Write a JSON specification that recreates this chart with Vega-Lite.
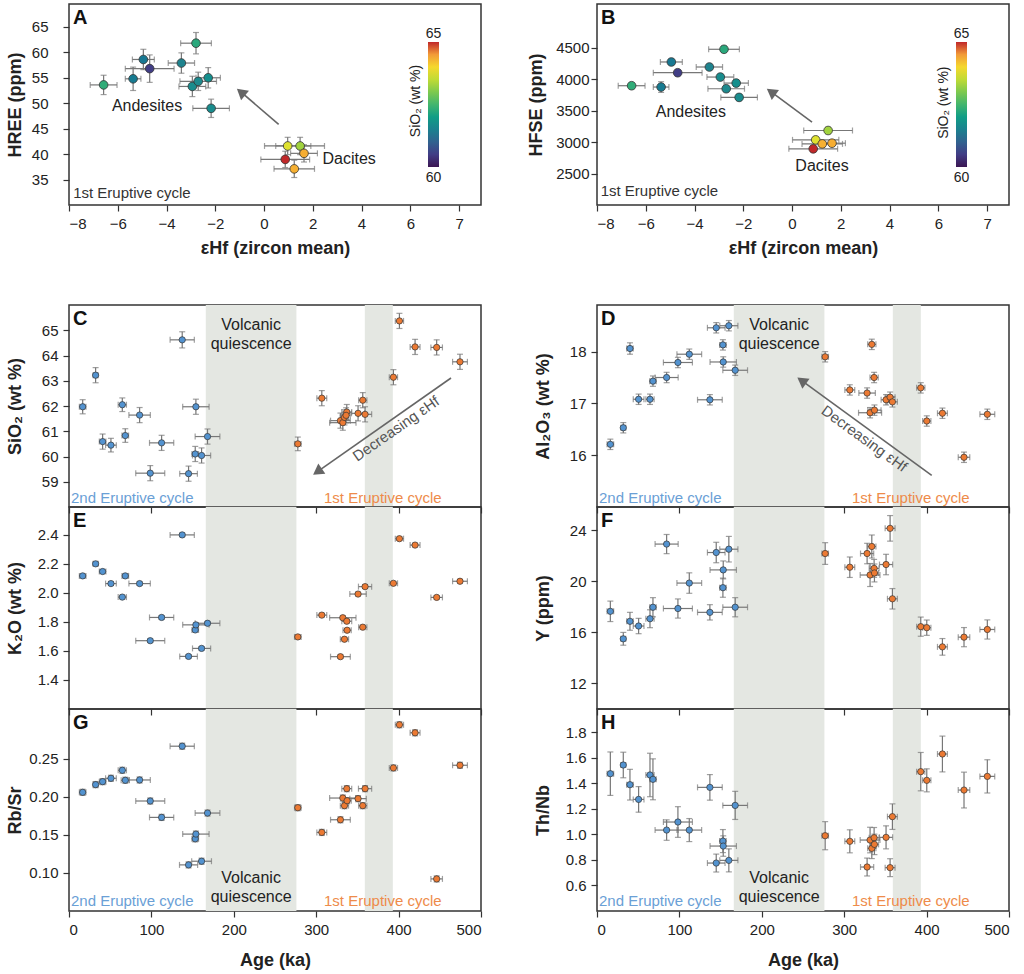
{
"$schema":"https://vega.github.io/schema/vega-lite/v6.json",
"padding":{"left":5,"top":3,"right":5,"bottom":5},
"config":{"font":"Liberation Sans","view":{"stroke":"#333","strokeWidth":1.5},
"axis":{"grid":false,"domain":false,"tickSize":6,"tickColor":"#333","tickWidth":1.2,"labelFontSize":15,"labelColor":"#222","titleFontSize":18,"titleFontWeight":"bold","titleColor":"#222","labelPadding":5,"labelOverlap":false},
"axisY":{"minExtent":38,"maxExtent":38,"titlePadding":7}},
"datasets":{
"bands":[{"s":166,"e":276},{"s":359,"e":393}],
"AB":[
{"e":-6.58,"ee":0.55,"h":53.6,"he":1.9,"f":3899,"fe":50,"s":62.3},
{"e":-5.37,"ee":0.32,"h":54.8,"he":2.3,"f":3878,"fe":85,"s":61.4},
{"e":-4.95,"ee":0.45,"h":58.6,"he":2.0,"f":4277,"fe":50,"s":61.35},
{"e":-4.69,"ee":1.0,"h":56.8,"he":2.7,"f":4106,"fe":50,"s":60.5},
{"e":-3.39,"ee":0.54,"h":57.9,"he":2.0,"f":4197,"fe":50,"s":61.55},
{"e":-2.79,"ee":0.63,"h":61.8,"he":2.1,"f":4479,"fe":50,"s":62.2},
{"e":-2.94,"ee":0.55,"h":53.3,"he":2.0,"f":4037,"fe":50,"s":61.7},
{"e":-2.70,"ee":0.75,"h":54.3,"he":1.8,"f":3851,"fe":50,"s":61.65},
{"e":-2.29,"ee":0.5,"h":55.0,"he":2.0,"f":3941,"fe":50,"s":61.75},
{"e":-2.17,"ee":0.75,"h":49.0,"he":1.8,"f":3713,"fe":50,"s":61.7},
{"e":0.97,"ee":0.95,"h":41.6,"he":1.7,"f":3037,"fe":50,"s":63.75},
{"e":1.48,"ee":1.0,"h":41.6,"he":1.7,"f":3186,"fe":50,"s":63.25},
{"e":1.64,"ee":0.55,"h":40.15,"he":1.7,"f":2984,"fe":50,"s":64.34},
{"e":0.87,"ee":1.0,"h":38.96,"he":1.6,"f":2894,"fe":50,"s":65.37},
{"e":1.24,"ee":0.83,"h":37.1,"he":1.7,"f":2973,"fe":50,"s":64.32}],
"C":[
{"c":"2nd","a":16.6,"ae":4,"v":61.97,"ve":0.28},
{"c":"2nd","a":32.3,"ae":3,"v":63.22,"ve":0.3},
{"c":"2nd","a":40.8,"ae":4,"v":60.59,"ve":0.3},
{"c":"2nd","a":50.9,"ae":6.5,"v":60.45,"ve":0.27},
{"c":"2nd","a":64.7,"ae":5,"v":62.05,"ve":0.27},
{"c":"2nd","a":68.3,"ae":4,"v":60.83,"ve":0.27},
{"c":"2nd","a":85.7,"ae":13,"v":61.64,"ve":0.3},
{"c":"2nd","a":98.6,"ae":17.6,"v":59.34,"ve":0.3},
{"c":"2nd","a":112.4,"ae":14.7,"v":60.54,"ve":0.3},
{"c":"2nd","a":137.4,"ae":14.7,"v":64.62,"ve":0.32},
{"c":"2nd","a":145.1,"ae":10.7,"v":59.32,"ve":0.3},
{"c":"2nd","a":153.2,"ae":4,"v":60.1,"ve":0.3},
{"c":"2nd","a":154,"ae":16,"v":61.97,"ve":0.3},
{"c":"2nd","a":160.9,"ae":11,"v":60.04,"ve":0.3},
{"c":"2nd","a":168.1,"ae":15,"v":60.79,"ve":0.3},
{"c":"1st","a":277.7,"ae":4,"v":60.5,"ve":0.27},
{"c":"1st","a":306.8,"ae":6,"v":62.31,"ve":0.3},
{"c":"1st","a":329.4,"ae":12,"v":61.42,"ve":0.3},
{"c":"1st","a":332.3,"ae":16,"v":61.34,"ve":0.3},
{"c":"1st","a":334.3,"ae":5,"v":61.55,"ve":0.3},
{"c":"1st","a":337.1,"ae":6,"v":61.76,"ve":0.3},
{"c":"1st","a":336.3,"ae":5,"v":61.63,"ve":0.3},
{"c":"1st","a":350.8,"ae":8,"v":61.71,"ve":0.3},
{"c":"1st","a":356.5,"ae":5,"v":62.23,"ve":0.3},
{"c":"1st","a":359.3,"ae":8,"v":61.67,"ve":0.3},
{"c":"1st","a":393.7,"ae":5,"v":63.14,"ve":0.3},
{"c":"1st","a":401,"ae":5,"v":65.37,"ve":0.3},
{"c":"1st","a":420,"ae":6,"v":64.34,"ve":0.3},
{"c":"1st","a":446.2,"ae":7,"v":64.32,"ve":0.3},
{"c":"1st","a":474.5,"ae":9,"v":63.75,"ve":0.3}],
"D":[
{"c":"2nd","a":16.2,"ae":4,"v":16.21,"ve":0.1},
{"c":"2nd","a":31.9,"ae":3,"v":16.53,"ve":0.1},
{"c":"2nd","a":40,"ae":4,"v":18.06,"ve":0.11},
{"c":"2nd","a":50.5,"ae":6.5,"v":17.08,"ve":0.1},
{"c":"2nd","a":64.3,"ae":5,"v":17.08,"ve":0.1},
{"c":"2nd","a":67.9,"ae":4,"v":17.43,"ve":0.1},
{"c":"2nd","a":84.5,"ae":14,"v":17.5,"ve":0.1},
{"c":"2nd","a":98.2,"ae":17.6,"v":17.79,"ve":0.1},
{"c":"2nd","a":112,"ae":15,"v":17.95,"ve":0.1},
{"c":"2nd","a":137,"ae":15,"v":17.07,"ve":0.1},
{"c":"2nd","a":144.7,"ae":10.7,"v":18.46,"ve":0.1},
{"c":"2nd","a":152.8,"ae":4,"v":18.13,"ve":0.1},
{"c":"2nd","a":153.2,"ae":16,"v":17.8,"ve":0.1},
{"c":"2nd","a":160,"ae":11,"v":18.5,"ve":0.1},
{"c":"2nd","a":167.7,"ae":15,"v":17.64,"ve":0.1},
{"c":"1st","a":276.9,"ae":4,"v":17.9,"ve":0.1},
{"c":"1st","a":306.8,"ae":6,"v":17.26,"ve":0.1},
{"c":"1st","a":327.8,"ae":10,"v":17.2,"ve":0.1},
{"c":"1st","a":331.4,"ae":14,"v":16.82,"ve":0.1},
{"c":"1st","a":333.5,"ae":5,"v":18.14,"ve":0.1},
{"c":"1st","a":336.3,"ae":5,"v":17.5,"ve":0.1},
{"c":"1st","a":336.7,"ae":8,"v":16.87,"ve":0.1},
{"c":"1st","a":350.8,"ae":6,"v":17.07,"ve":0.1},
{"c":"1st","a":355.7,"ae":6,"v":17.12,"ve":0.1},
{"c":"1st","a":358.5,"ae":6,"v":17.03,"ve":0.1},
{"c":"1st","a":392.9,"ae":5,"v":17.3,"ve":0.1},
{"c":"1st","a":400.2,"ae":5,"v":16.66,"ve":0.1},
{"c":"1st","a":419.2,"ae":6,"v":16.81,"ve":0.1},
{"c":"1st","a":445.4,"ae":7,"v":15.96,"ve":0.1},
{"c":"1st","a":473.7,"ae":9,"v":16.79,"ve":0.1}],
"E":[
{"c":"2nd","a":16.6,"ae":4,"v":2.116,"ve":0.012},
{"c":"2nd","a":32.3,"ae":3,"v":2.199,"ve":0.012},
{"c":"2nd","a":40.8,"ae":4,"v":2.146,"ve":0.012},
{"c":"2nd","a":50.9,"ae":6.5,"v":2.063,"ve":0.012},
{"c":"2nd","a":64.7,"ae":5,"v":1.97,"ve":0.012},
{"c":"2nd","a":68.3,"ae":4,"v":2.116,"ve":0.012},
{"c":"2nd","a":85.7,"ae":13,"v":2.063,"ve":0.012},
{"c":"2nd","a":98.6,"ae":17.6,"v":1.67,"ve":0.012},
{"c":"2nd","a":112.4,"ae":14.7,"v":1.83,"ve":0.012},
{"c":"2nd","a":137.4,"ae":14.7,"v":2.398,"ve":0.012},
{"c":"2nd","a":145.1,"ae":10.7,"v":1.562,"ve":0.012},
{"c":"2nd","a":153.2,"ae":4,"v":1.744,"ve":0.012},
{"c":"2nd","a":154,"ae":16,"v":1.779,"ve":0.012},
{"c":"2nd","a":160.9,"ae":11,"v":1.617,"ve":0.012},
{"c":"2nd","a":168.1,"ae":15,"v":1.79,"ve":0.012},
{"c":"1st","a":277.7,"ae":4,"v":1.696,"ve":0.012},
{"c":"1st","a":306.8,"ae":6,"v":1.846,"ve":0.012},
{"c":"1st","a":329.4,"ae":12,"v":1.56,"ve":0.012},
{"c":"1st","a":332.3,"ae":16,"v":1.828,"ve":0.012},
{"c":"1st","a":334.3,"ae":5,"v":1.68,"ve":0.012},
{"c":"1st","a":337.1,"ae":6,"v":1.804,"ve":0.012},
{"c":"1st","a":337.5,"ae":5,"v":1.742,"ve":0.012},
{"c":"1st","a":350.8,"ae":10,"v":1.991,"ve":0.012},
{"c":"1st","a":356.5,"ae":5,"v":1.763,"ve":0.012},
{"c":"1st","a":359.3,"ae":8,"v":2.042,"ve":0.012},
{"c":"1st","a":393.7,"ae":5,"v":2.065,"ve":0.012},
{"c":"1st","a":401,"ae":5,"v":2.372,"ve":0.012},
{"c":"1st","a":420,"ae":6,"v":2.328,"ve":0.012},
{"c":"1st","a":446.2,"ae":7,"v":1.968,"ve":0.012},
{"c":"1st","a":474.5,"ae":9,"v":2.079,"ve":0.012}],
"F":[
{"c":"2nd","a":16.2,"ae":4,"v":17.64,"ve":0.8},
{"c":"2nd","a":31.9,"ae":3,"v":15.49,"ve":0.5},
{"c":"2nd","a":40,"ae":4,"v":16.86,"ve":0.7},
{"c":"2nd","a":50.5,"ae":6.5,"v":16.49,"ve":0.6},
{"c":"2nd","a":64.3,"ae":5,"v":17.06,"ve":0.7},
{"c":"2nd","a":67.9,"ae":4,"v":17.96,"ve":0.75},
{"c":"2nd","a":84.5,"ae":14,"v":22.9,"ve":0.75},
{"c":"2nd","a":98.2,"ae":17.6,"v":17.86,"ve":0.75},
{"c":"2nd","a":112,"ae":15,"v":19.85,"ve":0.8},
{"c":"2nd","a":137,"ae":15,"v":17.56,"ve":0.6},
{"c":"2nd","a":144.7,"ae":10.7,"v":22.24,"ve":0.8},
{"c":"2nd","a":152.8,"ae":4,"v":19.49,"ve":0.75},
{"c":"2nd","a":153.2,"ae":16,"v":20.88,"ve":0.7},
{"c":"2nd","a":160,"ae":11,"v":22.5,"ve":1.0},
{"c":"2nd","a":167.7,"ae":15,"v":17.96,"ve":0.75},
{"c":"1st","a":276.9,"ae":4,"v":22.16,"ve":0.85},
{"c":"1st","a":306.8,"ae":6,"v":21.09,"ve":0.8},
{"c":"1st","a":327.8,"ae":8,"v":22.16,"ve":0.8},
{"c":"1st","a":331.4,"ae":12,"v":20.48,"ve":0.9},
{"c":"1st","a":333.5,"ae":5,"v":22.71,"ve":0.9},
{"c":"1st","a":336.3,"ae":6,"v":21.0,"ve":0.7},
{"c":"1st","a":336.7,"ae":5,"v":20.64,"ve":0.7},
{"c":"1st","a":350.8,"ae":8,"v":21.3,"ve":0.8},
{"c":"1st","a":355.7,"ae":6,"v":24.13,"ve":1.0},
{"c":"1st","a":358.5,"ae":6,"v":18.62,"ve":0.8},
{"c":"1st","a":392.9,"ae":5,"v":16.44,"ve":0.75},
{"c":"1st","a":400.2,"ae":5,"v":16.36,"ve":0.6},
{"c":"1st","a":419.2,"ae":6,"v":14.86,"ve":0.65},
{"c":"1st","a":445.4,"ae":7,"v":15.62,"ve":0.75},
{"c":"1st","a":473.7,"ae":9,"v":16.22,"ve":0.75}],
"G":[
{"c":"2nd","a":16.6,"ae":4,"v":0.2057,"ve":0.004},
{"c":"2nd","a":32.3,"ae":3,"v":0.2158,"ve":0.004},
{"c":"2nd","a":40.8,"ae":4,"v":0.2197,"ve":0.004},
{"c":"2nd","a":50.9,"ae":6.5,"v":0.2241,"ve":0.004},
{"c":"2nd","a":64.7,"ae":5,"v":0.2346,"ve":0.004},
{"c":"2nd","a":68.3,"ae":5,"v":0.2215,"ve":0.004},
{"c":"2nd","a":85.7,"ae":13,"v":0.2219,"ve":0.004},
{"c":"2nd","a":98.6,"ae":17.6,"v":0.1943,"ve":0.004},
{"c":"2nd","a":112.4,"ae":14.7,"v":0.1728,"ve":0.004},
{"c":"2nd","a":137.4,"ae":14.7,"v":0.2662,"ve":0.004},
{"c":"2nd","a":145.1,"ae":11,"v":0.1105,"ve":0.004},
{"c":"2nd","a":153.2,"ae":4,"v":0.1447,"ve":0.004},
{"c":"2nd","a":154,"ae":16,"v":0.1509,"ve":0.004},
{"c":"2nd","a":160.9,"ae":12,"v":0.1153,"ve":0.004},
{"c":"2nd","a":168.1,"ae":15,"v":0.1785,"ve":0.004},
{"c":"1st","a":277.7,"ae":4,"v":0.1855,"ve":0.004},
{"c":"1st","a":306.8,"ae":6,"v":0.1531,"ve":0.004},
{"c":"1st","a":329.4,"ae":12,"v":0.1697,"ve":0.004},
{"c":"1st","a":332.3,"ae":16,"v":0.1982,"ve":0.004},
{"c":"1st","a":334.3,"ae":5,"v":0.1882,"ve":0.004},
{"c":"1st","a":337.1,"ae":6,"v":0.2105,"ve":0.004},
{"c":"1st","a":337.5,"ae":5,"v":0.1947,"ve":0.004},
{"c":"1st","a":350.8,"ae":10,"v":0.1974,"ve":0.004},
{"c":"1st","a":356.5,"ae":5,"v":0.1882,"ve":0.004},
{"c":"1st","a":359.3,"ae":8,"v":0.2105,"ve":0.004},
{"c":"1st","a":393.7,"ae":5,"v":0.2377,"ve":0.004},
{"c":"1st","a":401,"ae":5,"v":0.2943,"ve":0.004},
{"c":"1st","a":420,"ae":6,"v":0.2838,"ve":0.004},
{"c":"1st","a":446.2,"ae":7,"v":0.0921,"ve":0.004},
{"c":"1st","a":474.5,"ae":9,"v":0.2412,"ve":0.004}],
"H":[
{"c":"2nd","a":16.2,"ae":4,"v":1.474,"ve":0.17},
{"c":"2nd","a":31.9,"ae":3,"v":1.542,"ve":0.1},
{"c":"2nd","a":40,"ae":4,"v":1.388,"ve":0.12},
{"c":"2nd","a":50.5,"ae":6.5,"v":1.273,"ve":0.1},
{"c":"2nd","a":64.3,"ae":5,"v":1.464,"ve":0.17},
{"c":"2nd","a":67.9,"ae":4,"v":1.43,"ve":0.16},
{"c":"2nd","a":84.5,"ae":14,"v":1.033,"ve":0.08},
{"c":"2nd","a":98.2,"ae":17.6,"v":1.096,"ve":0.12},
{"c":"2nd","a":112,"ae":15,"v":1.033,"ve":0.09},
{"c":"2nd","a":137,"ae":15,"v":1.367,"ve":0.1},
{"c":"2nd","a":144.7,"ae":10.7,"v":0.775,"ve":0.07},
{"c":"2nd","a":152.8,"ae":4,"v":0.947,"ve":0.09},
{"c":"2nd","a":153.2,"ae":16,"v":0.908,"ve":0.08},
{"c":"2nd","a":160,"ae":11,"v":0.796,"ve":0.09},
{"c":"2nd","a":167.7,"ae":15,"v":1.226,"ve":0.11},
{"c":"1st","a":276.9,"ae":4,"v":0.989,"ve":0.11},
{"c":"1st","a":306.8,"ae":6,"v":0.945,"ve":0.09},
{"c":"1st","a":327.8,"ae":8,"v":0.744,"ve":0.07},
{"c":"1st","a":331.4,"ae":12,"v":0.955,"ve":0.1},
{"c":"1st","a":333.5,"ae":5,"v":0.89,"ve":0.08},
{"c":"1st","a":336.3,"ae":6,"v":0.973,"ve":0.08},
{"c":"1st","a":336.7,"ae":5,"v":0.921,"ve":0.08},
{"c":"1st","a":350.8,"ae":8,"v":0.976,"ve":0.09},
{"c":"1st","a":355.7,"ae":6,"v":0.739,"ve":0.07},
{"c":"1st","a":358.5,"ae":6,"v":1.138,"ve":0.1},
{"c":"1st","a":392.9,"ae":5,"v":1.49,"ve":0.15},
{"c":"1st","a":400.2,"ae":5,"v":1.422,"ve":0.09},
{"c":"1st","a":419.2,"ae":6,"v":1.628,"ve":0.14},
{"c":"1st","a":445.4,"ae":7,"v":1.346,"ve":0.14},
{"c":"1st","a":473.7,"ae":9,"v":1.453,"ve":0.13}]
},
"spacing":46,
"vconcat":[
{"hconcat":[
{"width":412,"height":201,"layer":[
{"data":{"name":"AB"},"mark":{"type":"errorbar","ticks":true,"size":6,"thickness":1.2,"color":"#777"},
"encoding":{"x":{"field":"e","type":"quantitative","title":"\u03b5Hf (zircon mean)","scale":{"domain":[-8,8.9],"nice":false,"zero":false},"axis":{"values":[-8,-6,-4,-2,0,2,4,6,8],"tickCount":20,"labelExpr":"datum.value == 8 ? '7' : datum.label","titlePadding":8}},"xError":{"field":"ee"},
"y":{"field":"h","type":"quantitative","title":"HREE (ppm)","scale":{"domain":[30,69.5],"nice":false,"zero":false},"axis":{"values":[35,40,45,50,55,60,65],"tickCount":20,"format":"d","labelPadding":15}}}},
{"data":{"name":"AB"},"mark":{"type":"errorbar","ticks":true,"size":6,"thickness":1.2,"color":"#777"},
"encoding":{"x":{"field":"e","type":"quantitative","title":"\u03b5Hf (zircon mean)"},"y":{"field":"h","type":"quantitative","title":"HREE (ppm)"},"yError":{"field":"he"}}},
{"data":{"name":"AB"},"mark":{"type":"point","filled":true,"size":75,"stroke":"#333","strokeWidth":0.8,"opacity":1},
"encoding":{"x":{"field":"e","type":"quantitative","title":"\u03b5Hf (zircon mean)"},"y":{"field":"h","type":"quantitative","title":"HREE (ppm)"},
"color":{"field":"s","type":"quantitative","scale":{"domain":[60,60.5,61,61.6,62.2,62.8,63.3,63.9,64.5,65],"range":["#3b1653","#413d85","#31628f","#23868d","#2aa87c","#62c05a","#a8d53a","#f2e530","#f29a38","#c0282a"],"clamp":true},
"legend":{"orient":"none","legendX":359,"legendY":38,"direction":"vertical","gradientLength":125,"gradientThickness":11,"title":null,"labelOpacity":0,"padding":0,"gradientStrokeWidth":0}}}},
{"data":{"values":[{"t":"A","x":-7.84,"y":68.7}]},"mark":{"type":"text","fontSize":20,"fontWeight":"bold","align":"left","baseline":"top","color":"#111"},
"encoding":{"x":{"field":"x","type":"quantitative"},"y":{"field":"y","type":"quantitative"},"text":{"field":"t"}}},
{"data":{"values":[{"t":"Andesites","x":-4.8,"y":49.4},{"t":"Dacites","x":3.49,"y":38.96}]},"mark":{"type":"text","fontSize":16,"align":"center","baseline":"middle","color":"#222"},
"encoding":{"x":{"field":"x","type":"quantitative"},"y":{"field":"y","type":"quantitative"},"text":{"field":"t"}}},
{"data":{"values":[{"t":"1st Eruptive cycle","x":-7.83,"y":32.4}]},"mark":{"type":"text","fontSize":15,"align":"left","baseline":"middle","color":"#333"},
"encoding":{"x":{"field":"x","type":"quantitative"},"y":{"field":"y","type":"quantitative"},"text":{"field":"t"}}},
{"data":{"values":[{"t":"65","x":6.95,"y":63.6},{"t":"60","x":6.95,"y":35.3}]},"mark":{"type":"text","fontSize":14,"align":"center","baseline":"middle","color":"#222"},
"encoding":{"x":{"field":"x","type":"quantitative"},"y":{"field":"y","type":"quantitative"},"text":{"field":"t"}}},
{"data":{"values":[{"t":"SiO\u2082 (wt %)","x":6.23,"y":50.44}]},"mark":{"type":"text","fontSize":14,"align":"center","baseline":"middle","angle":270,"color":"#222"},
"encoding":{"x":{"field":"x","type":"quantitative"},"y":{"field":"y","type":"quantitative"},"text":{"field":"t"}}},
{"data":{"values":[{"x":0.60,"y":45.86,"x2":-0.891,"y2":51.97}]},"mark":{"type":"rule","color":"#666","strokeWidth":1.6},
"encoding":{"x":{"field":"x","type":"quantitative"},"y":{"field":"y","type":"quantitative"},"x2":{"field":"x2"},"y2":{"field":"y2"}}},
{"data":{"values":[{"x":-0.891,"y":51.97}]},"mark":{"type":"point","shape":"triangle","filled":true,"size":150,"angle":310,"color":"#666","opacity":1},
"encoding":{"x":{"field":"x","type":"quantitative"},"y":{"field":"y","type":"quantitative"}}}
]},
{"width":412,"height":201,"layer":[
{"data":{"name":"AB"},"mark":{"type":"errorbar","ticks":true,"size":6,"thickness":1.2,"color":"#777"},
"encoding":{"x":{"field":"e","type":"quantitative","title":"\u03b5Hf (zircon mean)","scale":{"domain":[-8,8.9],"nice":false,"zero":false},"axis":{"values":[-8,-6,-4,-2,0,2,4,6,8],"tickCount":20,"labelExpr":"datum.value == 8 ? '7' : datum.label","titlePadding":8}},"xError":{"field":"ee"},
"y":{"field":"f","type":"quantitative","title":"HFSE (ppm)","scale":{"domain":[2000,5200],"nice":false,"zero":false},"axis":{"values":[2500,3000,3500,4000,4500],"tickCount":20,"format":"d","labelPadding":2,"minExtent":45,"maxExtent":45}}}},
{"data":{"name":"AB"},"mark":{"type":"errorbar","ticks":true,"size":6,"thickness":1.2,"color":"#777"},
"encoding":{"x":{"field":"e","type":"quantitative","title":"\u03b5Hf (zircon mean)"},"y":{"field":"f","type":"quantitative","title":"HFSE (ppm)"},"yError":{"field":"fe"}}},
{"data":{"name":"AB"},"mark":{"type":"point","filled":true,"size":75,"stroke":"#333","strokeWidth":0.8,"opacity":1},
"encoding":{"x":{"field":"e","type":"quantitative","title":"\u03b5Hf (zircon mean)"},"y":{"field":"f","type":"quantitative","title":"HFSE (ppm)"},
"color":{"field":"s","type":"quantitative","scale":{"domain":[60,60.5,61,61.6,62.2,62.8,63.3,63.9,64.5,65],"range":["#3b1653","#413d85","#31628f","#23868d","#2aa87c","#62c05a","#a8d53a","#f2e530","#f29a38","#c0282a"],"clamp":true},
"legend":{"orient":"none","legendX":359,"legendY":38,"direction":"vertical","gradientLength":125,"gradientThickness":11,"title":null,"labelOpacity":0,"padding":0,"gradientStrokeWidth":0}}}},
{"data":{"values":[{"t":"B","x":-7.84,"y":5136}]},"mark":{"type":"text","fontSize":20,"fontWeight":"bold","align":"left","baseline":"top","color":"#111"},
"encoding":{"x":{"field":"x","type":"quantitative"},"y":{"field":"y","type":"quantitative"},"text":{"field":"t"}}},
{"data":{"values":[{"t":"Andesites","x":-4.15,"y":3473},{"t":"Dacites","x":1.23,"y":2628}]},"mark":{"type":"text","fontSize":16,"align":"center","baseline":"middle","color":"#222"},
"encoding":{"x":{"field":"x","type":"quantitative"},"y":{"field":"y","type":"quantitative"},"text":{"field":"t"}}},
{"data":{"values":[{"t":"1st Eruptive cycle","x":-7.85,"y":2218}]},"mark":{"type":"text","fontSize":15,"align":"left","baseline":"middle","color":"#333"},
"encoding":{"x":{"field":"x","type":"quantitative"},"y":{"field":"y","type":"quantitative"},"text":{"field":"t"}}},
{"data":{"values":[{"t":"65","x":6.95,"y":4722},{"t":"60","x":6.95,"y":2430}]},"mark":{"type":"text","fontSize":14,"align":"center","baseline":"middle","color":"#222"},
"encoding":{"x":{"field":"x","type":"quantitative"},"y":{"field":"y","type":"quantitative"},"text":{"field":"t"}}},
{"data":{"values":[{"t":"SiO\u2082 (wt %)","x":6.23,"y":3629}]},"mark":{"type":"text","fontSize":14,"align":"center","baseline":"middle","angle":270,"color":"#222"},
"encoding":{"x":{"field":"x","type":"quantitative"},"y":{"field":"y","type":"quantitative"},"text":{"field":"t"}}},
{"data":{"values":[{"x":0.82,"y":3321,"x2":-0.80,"y2":3785}]},"mark":{"type":"rule","color":"#666","strokeWidth":1.6},
"encoding":{"x":{"field":"x","type":"quantitative"},"y":{"field":"y","type":"quantitative"},"x2":{"field":"x2"},"y2":{"field":"y2"}}},
{"data":{"values":[{"x":-0.80,"y":3785}]},"mark":{"type":"point","shape":"triangle","filled":true,"size":150,"angle":306,"color":"#666","opacity":1},
"encoding":{"x":{"field":"x","type":"quantitative"},"y":{"field":"y","type":"quantitative"}}}
]}
],"spacing":116,"bounds":"flush","resolve":{"scale":{"color":"independent"},"legend":{"color":"independent"}}},
{"concat":[
{"width":412,"height":202,"layer":[
{"data":{"name":"bands"},"mark":{"type":"rect","color":"#e4e7e2"},"encoding":{"x":{"field":"s","type":"quantitative","title":null,"scale":{"domain":[0,500],"nice":false,"zero":false},"axis":{"values":[0,100,200,300,400,500],"tickCount":20,"labels":false}},"x2":{"field":"e"}}},
{"data":{"name":"C"},"mark":{"type":"errorbar","ticks":true,"size":6,"thickness":1.2,"color":"#777"},"encoding":{"x":{"field":"a","type":"quantitative","title":null},"xError":{"field":"ae"},"y":{"field":"v","type":"quantitative","title":"SiO\u2082 (wt %)","scale":{"domain":[58,66],"nice":false,"zero":false},"axis":{"values":[59,60,61,62,63,64,65],"tickCount":20,"format":"d"}}}},
{"data":{"name":"C"},"mark":{"type":"errorbar","ticks":true,"size":6,"thickness":1.2,"color":"#777"},"encoding":{"x":{"field":"a","type":"quantitative","title":null},"y":{"field":"v","type":"quantitative","title":"SiO\u2082 (wt %)"},"yError":{"field":"ve"}}},
{"data":{"name":"C"},"mark":{"type":"point","filled":true,"size":40,"stroke":"#333","strokeWidth":0.7,"opacity":1},"encoding":{"x":{"field":"a","type":"quantitative","title":null},"y":{"field":"v","type":"quantitative","title":"SiO\u2082 (wt %)"},"color":{"field":"c","type":"nominal","scale":{"domain":["2nd","1st"],"range":["#5393d0","#ec7a33"]},"legend":null}}},
{"data":{"values":[{"t":"C","x":5,"y":65.84}]},"mark":{"type":"text","fontSize":20,"fontWeight":"bold","align":"left","baseline":"top","color":"#111"},"encoding":{"x":{"field":"x","type":"quantitative"},"y":{"field":"y","type":"quantitative"},"text":{"field":"t"}}},
{"data":{"values":[{"t":"Volcanic\nquiescence","x":221,"y":65.52}]},"mark":{"type":"text","fontSize":16,"align":"center","baseline":"top","lineBreak":"\n","lineHeight":19,"color":"#222"},"encoding":{"x":{"field":"x","type":"quantitative"},"y":{"field":"y","type":"quantitative"},"text":{"field":"t"}}},
{"data":{"values":[{"t":"2nd Eruptive cycle","x":2.4,"y":58.36}]},"mark":{"type":"text","fontSize":15,"align":"left","baseline":"middle","color":"#6aa0d6"},"encoding":{"x":{"field":"x","type":"quantitative"},"y":{"field":"y","type":"quantitative"},"text":{"field":"t"}}},
{"data":{"values":[{"t":"1st Eruptive cycle","x":380.8,"y":58.36}]},"mark":{"type":"text","fontSize":15,"align":"center","baseline":"middle","color":"#ee8b4a"},"encoding":{"x":{"field":"x","type":"quantitative"},"y":{"field":"y","type":"quantitative"},"text":{"field":"t"}}},
{"data":{"values":[{"x":463.6,"y":63.11,"x2":303.3,"y2":59.44}]},"mark":{"type":"rule","color":"#666","strokeWidth":1.6},"encoding":{"x":{"field":"x","type":"quantitative"},"y":{"field":"y","type":"quantitative"},"x2":{"field":"x2"},"y2":{"field":"y2"}}},
{"data":{"values":[{"x":303.3,"y":59.44}]},"mark":{"type":"point","shape":"triangle","filled":true,"size":150,"angle":235,"color":"#666","opacity":1},"encoding":{"x":{"field":"x","type":"quantitative"},"y":{"field":"y","type":"quantitative"}}},
{"data":{"values":[{"t":"Decreasing \u03b5Hf","x":396.8,"y":61.1}]},"mark":{"type":"text","fontSize":15,"align":"center","baseline":"middle","angle":325,"color":"#555"},"encoding":{"x":{"field":"x","type":"quantitative"},"y":{"field":"y","type":"quantitative"},"text":{"field":"t"}}}
]},
{"width":412,"height":202,"layer":[
{"data":{"name":"bands"},"mark":{"type":"rect","color":"#e4e7e2"},"encoding":{"x":{"field":"s","type":"quantitative","title":null,"scale":{"domain":[0,500],"nice":false,"zero":false},"axis":{"values":[0,100,200,300,400,500],"tickCount":20,"labels":false}},"x2":{"field":"e"}}},
{"data":{"name":"D"},"mark":{"type":"errorbar","ticks":true,"size":6,"thickness":1.2,"color":"#777"},"encoding":{"x":{"field":"a","type":"quantitative","title":null},"xError":{"field":"ae"},"y":{"field":"v","type":"quantitative","title":"Al\u2082O\u2083 (wt %)","scale":{"domain":[15,18.9],"nice":false,"zero":false},"axis":{"values":[16,17,18],"tickCount":20,"format":"d"}}}},
{"data":{"name":"D"},"mark":{"type":"errorbar","ticks":true,"size":6,"thickness":1.2,"color":"#777"},"encoding":{"x":{"field":"a","type":"quantitative","title":null},"y":{"field":"v","type":"quantitative","title":"Al\u2082O\u2083 (wt %)"},"yError":{"field":"ve"}}},
{"data":{"name":"D"},"mark":{"type":"point","filled":true,"size":40,"stroke":"#333","strokeWidth":0.7,"opacity":1},"encoding":{"x":{"field":"a","type":"quantitative","title":null},"y":{"field":"v","type":"quantitative","title":"Al\u2082O\u2083 (wt %)"},"color":{"field":"c","type":"nominal","scale":{"domain":["2nd","1st"],"range":["#5393d0","#ec7a33"]},"legend":null}}},
{"data":{"values":[{"t":"D","x":5,"y":18.82}]},"mark":{"type":"text","fontSize":20,"fontWeight":"bold","align":"left","baseline":"top","color":"#111"},"encoding":{"x":{"field":"x","type":"quantitative"},"y":{"field":"y","type":"quantitative"},"text":{"field":"t"}}},
{"data":{"values":[{"t":"Volcanic\nquiescence","x":221,"y":18.67}]},"mark":{"type":"text","fontSize":16,"align":"center","baseline":"top","lineBreak":"\n","lineHeight":19,"color":"#222"},"encoding":{"x":{"field":"x","type":"quantitative"},"y":{"field":"y","type":"quantitative"},"text":{"field":"t"}}},
{"data":{"values":[{"t":"2nd Eruptive cycle","x":2.4,"y":15.17}]},"mark":{"type":"text","fontSize":15,"align":"left","baseline":"middle","color":"#6aa0d6"},"encoding":{"x":{"field":"x","type":"quantitative"},"y":{"field":"y","type":"quantitative"},"text":{"field":"t"}}},
{"data":{"values":[{"t":"1st Eruptive cycle","x":380.8,"y":15.17}]},"mark":{"type":"text","fontSize":15,"align":"center","baseline":"middle","color":"#ee8b4a"},"encoding":{"x":{"field":"x","type":"quantitative"},"y":{"field":"y","type":"quantitative"},"text":{"field":"t"}}},
{"data":{"values":[{"x":406.2,"y":15.61,"x2":250.1,"y2":17.42}]},"mark":{"type":"rule","color":"#666","strokeWidth":1.6},"encoding":{"x":{"field":"x","type":"quantitative"},"y":{"field":"y","type":"quantitative"},"x2":{"field":"x2"},"y2":{"field":"y2"}}},
{"data":{"values":[{"x":250.1,"y":17.42}]},"mark":{"type":"point","shape":"triangle","filled":true,"size":150,"angle":306,"color":"#666","opacity":1},"encoding":{"x":{"field":"x","type":"quantitative"},"y":{"field":"y","type":"quantitative"}}},
{"data":{"values":[{"t":"Decreasing \u03b5Hf","x":324.4,"y":16.32}]},"mark":{"type":"text","fontSize":15,"align":"center","baseline":"middle","angle":36,"color":"#555"},"encoding":{"x":{"field":"x","type":"quantitative"},"y":{"field":"y","type":"quantitative"},"text":{"field":"t"}}}
]},
{"width":412,"height":202,"layer":[
{"data":{"name":"bands"},"mark":{"type":"rect","color":"#e4e7e2"},"encoding":{"x":{"field":"s","type":"quantitative","title":null,"scale":{"domain":[0,500],"nice":false,"zero":false},"axis":{"values":[0,100,200,300,400,500],"tickCount":20,"labels":false}},"x2":{"field":"e"}}},
{"data":{"name":"E"},"mark":{"type":"errorbar","ticks":true,"size":6,"thickness":1.2,"color":"#777"},"encoding":{"x":{"field":"a","type":"quantitative","title":null},"xError":{"field":"ae"},"y":{"field":"v","type":"quantitative","title":"K\u2082O (wt %)","scale":{"domain":[1.2,2.59],"nice":false,"zero":false},"axis":{"values":[1.4,1.6,1.8,2.0,2.2,2.4],"tickCount":20,"format":".1f"}}}},
{"data":{"name":"E"},"mark":{"type":"errorbar","ticks":true,"size":6,"thickness":1.2,"color":"#777"},"encoding":{"x":{"field":"a","type":"quantitative","title":null},"y":{"field":"v","type":"quantitative","title":"K\u2082O (wt %)"},"yError":{"field":"ve"}}},
{"data":{"name":"E"},"mark":{"type":"point","filled":true,"size":40,"stroke":"#333","strokeWidth":0.7,"opacity":1},"encoding":{"x":{"field":"a","type":"quantitative","title":null},"y":{"field":"v","type":"quantitative","title":"K\u2082O (wt %)"},"color":{"field":"c","type":"nominal","scale":{"domain":["2nd","1st"],"range":["#5393d0","#ec7a33"]},"legend":null}}},
{"data":{"values":[{"t":"E","x":5,"y":2.5625}]},"mark":{"type":"text","fontSize":20,"fontWeight":"bold","align":"left","baseline":"top","color":"#111"},"encoding":{"x":{"field":"x","type":"quantitative"},"y":{"field":"y","type":"quantitative"},"text":{"field":"t"}}}
]},
{"width":412,"height":202,"layer":[
{"data":{"name":"bands"},"mark":{"type":"rect","color":"#e4e7e2"},"encoding":{"x":{"field":"s","type":"quantitative","title":null,"scale":{"domain":[0,500],"nice":false,"zero":false},"axis":{"values":[0,100,200,300,400,500],"tickCount":20,"labels":false}},"x2":{"field":"e"}}},
{"data":{"name":"F"},"mark":{"type":"errorbar","ticks":true,"size":6,"thickness":1.2,"color":"#777"},"encoding":{"x":{"field":"a","type":"quantitative","title":null},"xError":{"field":"ae"},"y":{"field":"v","type":"quantitative","title":"Y (ppm)","scale":{"domain":[10,25.8],"nice":false,"zero":false},"axis":{"values":[12,16,20,24],"tickCount":20,"format":"d"}}}},
{"data":{"name":"F"},"mark":{"type":"errorbar","ticks":true,"size":6,"thickness":1.2,"color":"#777"},"encoding":{"x":{"field":"a","type":"quantitative","title":null},"y":{"field":"v","type":"quantitative","title":"Y (ppm)"},"yError":{"field":"ve"}}},
{"data":{"name":"F"},"mark":{"type":"point","filled":true,"size":40,"stroke":"#333","strokeWidth":0.7,"opacity":1},"encoding":{"x":{"field":"a","type":"quantitative","title":null},"y":{"field":"v","type":"quantitative","title":"Y (ppm)"},"color":{"field":"c","type":"nominal","scale":{"domain":["2nd","1st"],"range":["#5393d0","#ec7a33"]},"legend":null}}},
{"data":{"values":[{"t":"F","x":5,"y":25.49}]},"mark":{"type":"text","fontSize":20,"fontWeight":"bold","align":"left","baseline":"top","color":"#111"},"encoding":{"x":{"field":"x","type":"quantitative"},"y":{"field":"y","type":"quantitative"},"text":{"field":"t"}}}
]},
{"width":412,"height":202,"layer":[
{"data":{"name":"bands"},"mark":{"type":"rect","color":"#e4e7e2"},"encoding":{"x":{"field":"s","type":"quantitative","title":"Age (ka)","scale":{"domain":[0,500],"nice":false,"zero":false},"axis":{"values":[0,100,200,300,400,500],"tickCount":20,"titlePadding":14}},"x2":{"field":"e"}}},
{"data":{"name":"G"},"mark":{"type":"errorbar","ticks":true,"size":6,"thickness":1.2,"color":"#777"},"encoding":{"x":{"field":"a","type":"quantitative","title":"Age (ka)"},"xError":{"field":"ae"},"y":{"field":"v","type":"quantitative","title":"Rb/Sr","scale":{"domain":[0.05,0.315],"nice":false,"zero":false},"axis":{"values":[0.1,0.15,0.2,0.25],"tickCount":20,"format":".2f"}}}},
{"data":{"name":"G"},"mark":{"type":"errorbar","ticks":true,"size":6,"thickness":1.2,"color":"#777"},"encoding":{"x":{"field":"a","type":"quantitative","title":"Age (ka)"},"y":{"field":"v","type":"quantitative","title":"Rb/Sr"},"yError":{"field":"ve"}}},
{"data":{"name":"G"},"mark":{"type":"point","filled":true,"size":40,"stroke":"#333","strokeWidth":0.7,"opacity":1},"encoding":{"x":{"field":"a","type":"quantitative","title":"Age (ka)"},"y":{"field":"v","type":"quantitative","title":"Rb/Sr"},"color":{"field":"c","type":"nominal","scale":{"domain":["2nd","1st"],"range":["#5393d0","#ec7a33"]},"legend":null}}},
{"data":{"values":[{"t":"G","x":5,"y":0.3098}]},"mark":{"type":"text","fontSize":20,"fontWeight":"bold","align":"left","baseline":"top","color":"#111"},"encoding":{"x":{"field":"x","type":"quantitative"},"y":{"field":"y","type":"quantitative"},"text":{"field":"t"}}},
{"data":{"values":[{"t":"Volcanic\nquiescence","x":221,"y":0.1038}]},"mark":{"type":"text","fontSize":16,"align":"center","baseline":"top","lineBreak":"\n","lineHeight":19,"color":"#222"},"encoding":{"x":{"field":"x","type":"quantitative"},"y":{"field":"y","type":"quantitative"},"text":{"field":"t"}}},
{"data":{"values":[{"t":"2nd Eruptive cycle","x":2.4,"y":0.0631}]},"mark":{"type":"text","fontSize":15,"align":"left","baseline":"middle","color":"#6aa0d6"},"encoding":{"x":{"field":"x","type":"quantitative"},"y":{"field":"y","type":"quantitative"},"text":{"field":"t"}}},
{"data":{"values":[{"t":"1st Eruptive cycle","x":380.8,"y":0.0631}]},"mark":{"type":"text","fontSize":15,"align":"center","baseline":"middle","color":"#ee8b4a"},"encoding":{"x":{"field":"x","type":"quantitative"},"y":{"field":"y","type":"quantitative"},"text":{"field":"t"}}}
]},
{"width":412,"height":202,"layer":[
{"data":{"name":"bands"},"mark":{"type":"rect","color":"#e4e7e2"},"encoding":{"x":{"field":"s","type":"quantitative","title":"Age (ka)","scale":{"domain":[0,500],"nice":false,"zero":false},"axis":{"values":[0,100,200,300,400,500],"tickCount":20,"titlePadding":14}},"x2":{"field":"e"}}},
{"data":{"name":"H"},"mark":{"type":"errorbar","ticks":true,"size":6,"thickness":1.2,"color":"#777"},"encoding":{"x":{"field":"a","type":"quantitative","title":"Age (ka)"},"xError":{"field":"ae"},"y":{"field":"v","type":"quantitative","title":"Th/Nb","scale":{"domain":[0.4,1.98],"nice":false,"zero":false},"axis":{"values":[0.6,0.8,1.0,1.2,1.4,1.6,1.8],"tickCount":20,"format":".1f"}}}},
{"data":{"name":"H"},"mark":{"type":"errorbar","ticks":true,"size":6,"thickness":1.2,"color":"#777"},"encoding":{"x":{"field":"a","type":"quantitative","title":"Age (ka)"},"y":{"field":"v","type":"quantitative","title":"Th/Nb"},"yError":{"field":"ve"}}},
{"data":{"name":"H"},"mark":{"type":"point","filled":true,"size":40,"stroke":"#333","strokeWidth":0.7,"opacity":1},"encoding":{"x":{"field":"a","type":"quantitative","title":"Age (ka)"},"y":{"field":"v","type":"quantitative","title":"Th/Nb"},"color":{"field":"c","type":"nominal","scale":{"domain":["2nd","1st"],"range":["#5393d0","#ec7a33"]},"legend":null}}},
{"data":{"values":[{"t":"H","x":5,"y":1.949}]},"mark":{"type":"text","fontSize":20,"fontWeight":"bold","align":"left","baseline":"top","color":"#111"},"encoding":{"x":{"field":"x","type":"quantitative"},"y":{"field":"y","type":"quantitative"},"text":{"field":"t"}}},
{"data":{"values":[{"t":"Volcanic\nquiescence","x":221,"y":0.7207}]},"mark":{"type":"text","fontSize":16,"align":"center","baseline":"top","lineBreak":"\n","lineHeight":19,"color":"#222"},"encoding":{"x":{"field":"x","type":"quantitative"},"y":{"field":"y","type":"quantitative"},"text":{"field":"t"}}},
{"data":{"values":[{"t":"2nd Eruptive cycle","x":2.4,"y":0.478}]},"mark":{"type":"text","fontSize":15,"align":"left","baseline":"middle","color":"#6aa0d6"},"encoding":{"x":{"field":"x","type":"quantitative"},"y":{"field":"y","type":"quantitative"},"text":{"field":"t"}}},
{"data":{"values":[{"t":"1st Eruptive cycle","x":380.8,"y":0.478}]},"mark":{"type":"text","fontSize":15,"align":"center","baseline":"middle","color":"#ee8b4a"},"encoding":{"x":{"field":"x","type":"quantitative"},"y":{"field":"y","type":"quantitative"},"text":{"field":"t"}}}
]}
],"columns":2,"spacing":{"row":0,"column":116},"bounds":"flush"}
]
}
